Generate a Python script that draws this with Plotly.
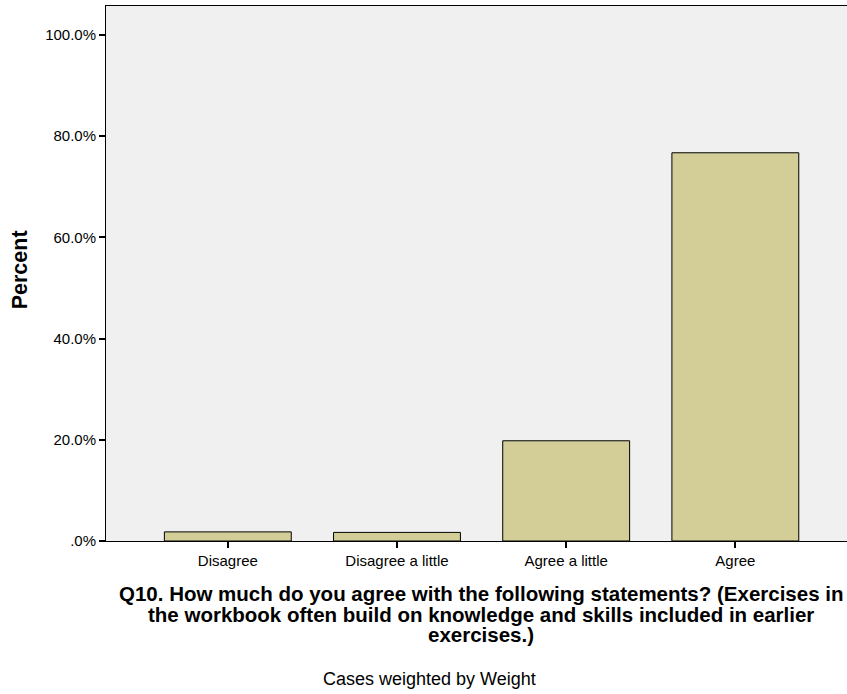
import plotly.graph_objects as go

categories = ["Disagree", "Disagree a little", "Agree a little", "Agree"]
percent = [1.8, 1.7, 19.8, 76.7]
y_tick_values = [0, 20, 40, 60, 80, 100]
y_tick_labels = [".0%", "20.0%", "40.0%", "60.0%", "80.0%", "100.0%"]

x_title_lines = [
    "Q10. How much do you agree with the following statements? (Exercises in",
    "the workbook often build on knowledge and skills included in earlier",
    "exercises.)",
]
y_title = "Percent"
footnote = "Cases weighted by Weight"

font_family = "Liberation Sans, Arial, sans-serif"

fig = go.Figure(
    go.Bar(
        x=categories,
        y=percent,
        width=0.75,
        marker=dict(color="#d3ce98", line=dict(color="#000000", width=1)),
        hoverinfo="x+y",
    )
)

# x-axis title: one annotation per line for tight line spacing
title_rows_y = [-0.099, -0.1375, -0.175]
annotations = [
    dict(
        text="<b>" + line + "</b>",
        xref="paper", yref="paper",
        x=0.5065, y=row_y,
        xanchor="center", yanchor="middle",
        showarrow=False,
        font=dict(size=20.5),
    )
    for line, row_y in zip(x_title_lines, title_rows_y)
]
annotations.append(
    dict(
        text="<b>" + y_title + "</b>",
        xref="paper", yref="paper",
        x=-0.116, y=0.506,
        xanchor="center", yanchor="middle",
        textangle=-90,
        showarrow=False,
        font=dict(size=21.5),
    )
)
annotations.append(
    dict(
        text=footnote,
        xref="paper", yref="paper",
        x=0.436, y=-0.258,
        xanchor="center", yanchor="middle",
        showarrow=False,
        font=dict(size=18),
    )
)

fig.update_layout(
    width=847,
    height=694,
    margin=dict(l=106, r=0, t=6, b=153),
    paper_bgcolor="#ffffff",
    plot_bgcolor="#f0f0f0",
    font=dict(family=font_family, size=15, color="#000000"),
    showlegend=False,
    xaxis=dict(
        type="category",
        range=[-0.72, 3.66],
        showline=True,
        linecolor="#000000",
        linewidth=1,
        mirror=True,
        ticks="outside",
        ticklen=6,
        tickwidth=1.5,
        tickcolor="#000000",
        showgrid=False,
        tickfont=dict(size=15),
    ),
    yaxis=dict(
        range=[0, 105.7],
        tickvals=y_tick_values,
        ticktext=y_tick_labels,
        showline=True,
        linecolor="#000000",
        linewidth=1,
        ticks="outside",
        ticklen=6,
        tickwidth=1.5,
        tickcolor="#000000",
        showgrid=False,
        zeroline=False,
        tickfont=dict(size=15),
    ),
    annotations=annotations,
)

fig.write_html("out.html")
